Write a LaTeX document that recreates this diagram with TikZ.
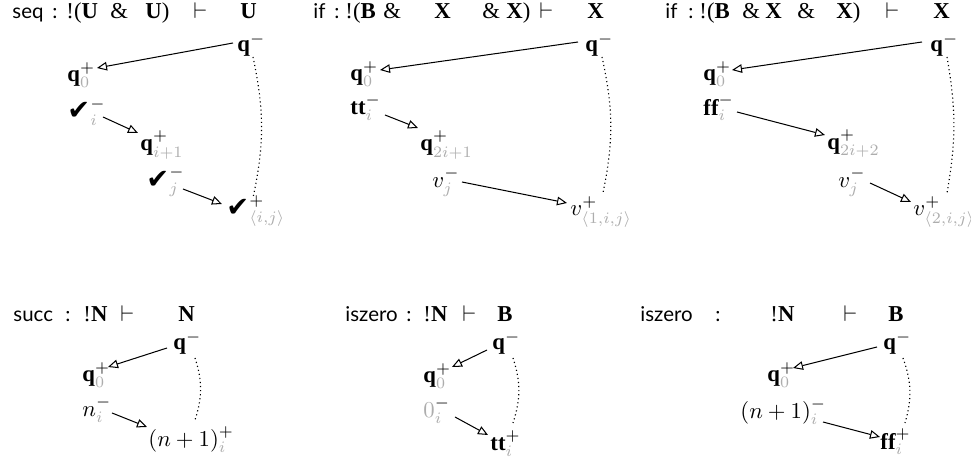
\documentclass[tikz,border=0pt]{standalone}
\usepackage{fontspec}
\setmainfont{Liberation Serif}
\newfontfamily\hdrfont{Lato}
\newfontfamily\chkfont{DejaVu Sans}
\usetikzlibrary{arrows.meta,calc}
\definecolor{subgray}{gray}{0.68}
\newcommand\gs[1]{{\color{subgray}#1}}
\newcommand\chk{\mbox{\chkfont\fontsize{12}{12}\selectfont ✔}}
\begin{document}
\begin{tikzpicture}[x=0.44pt,y=-0.44pt,
  mv/.style={anchor=west,inner sep=0pt},
  hd/.style={anchor=base west,inner sep=0pt},
  hs/.style={hd,font=\hdrfont\fontsize{9}{11}\selectfont},
  arr/.style={-{Triangle[open,length=4.4pt,width=3.8pt]},line width=0.45pt},
  dotcurve/.style={line width=0.5pt,dash pattern=on 0.5pt off 1.3pt}]
\useasboundingbox (0,0) rectangle (971,461);

% ---------- headers, top row ----------
\node[hs] (h1a) at (12,19) {seq};
\node[hs] (h1b) at (52,19) {:};
\node[hd] (h1c) at (66,19) {!(\textbf{U}};
\node[hd] (h1d) at (110,19) {\&};
\node[hd] (h1e) at (145,19) {\textbf{U})};
\node[hd] (h1f) at (193,19) {$\vdash$};
\node[hd] (h1g) at (240,19) {\textbf{U}};

\node[hs] (h2a) at (313,19) {if};
\node[hs] (h2b) at (334,19) {:};
\node[hd] (h2c) at (345,19) {!(\textbf{B}};
\node[hd] (h2d) at (383,19) {\&};
\node[hd] (h2e) at (434,19) {\textbf{X}};
\node[hd] (h2f) at (482,19) {\&};
\node[hd] (h2g) at (506,19) {\textbf{X})};
\node[hd] (h2h) at (539,19) {$\vdash$};
\node[hd] (h2i) at (587,19) {\textbf{X}};

\node[hs] (h3a) at (665,19) {if};
\node[hs] (h3b) at (688,19) {:};
\node[hd] (h3c) at (699,19) {!(\textbf{B}};
\node[hd] (h3d) at (742,19) {\&};
\node[hd] (h3e) at (765,19) {\textbf{X}};
\node[hd] (h3f) at (797,19) {\&};
\node[hd] (h3g) at (836,19) {\textbf{X})};
\node[hd] (h3h) at (885,19) {$\vdash$};
\node[hd] (h3i) at (933,19) {\textbf{X}};

% ---------- headers, bottom row ----------
\node[hs] (h4a) at (13,322) {succ};
\node[hs] (h4b) at (65,322) {:};
\node[hd] (h4c) at (83,322) {!\textbf{N}};
\node[hd] (h4d) at (120,322) {$\vdash$};
\node[hd] (h4e) at (178,322) {\textbf{N}};

\node[hs] (h5a) at (345,322) {iszero};
\node[hs] (h5b) at (406,322) {:};
\node[hd] (h5c) at (423,322) {!\textbf{N}};
\node[hd] (h5d) at (462,322) {$\vdash$};
\node[hd] (h5e) at (497,322) {\textbf{B}};

\node[hs] (h6a) at (640,322) {iszero};
\node[hs] (h6b) at (715,322) {:};
\node[hd] (h6c) at (770,322) {!\textbf{N}};
\node[hd] (h6d) at (843,322) {$\vdash$};
\node[hd] (h6e) at (888,322) {\textbf{B}};

% ---------- panel 1: seq ----------
\node[mv] (qm)  at (237,45)  {$\mathbf{q}^{-}$};
\node[mv] (q0)  at (67,75)   {$\mathbf{q}^{+}_{\gs{0}}$};
\node[mv] (ci)  at (67,112)  {$\chk^{-}_{\gs{i}}$};
\node[mv] (qi1) at (140,145) {$\mathbf{q}^{+}_{\gs{i+1}}$};
\node[mv] (cj)  at (146,182) {$\chk^{-}_{\gs{j}}$};
\node[mv] (cij) at (226,211) {$\chk^{+}_{\gs{\langle i,j\rangle}}$};
\draw[arr] ($(qm.west)+(-4,-2)$) -- ($(q0.west)+(30,-7)$);
\draw[arr] ($(ci.west)+(36,5)$) -- ($(qi1.west)+(-2,-12)$);
\draw[arr] ($(cj.west)+(37,7)$) -- ($(cij.west)+(-4,-7)$);
\draw[dotcurve] ($(qm.west)+(16,12)$) to[bend left=12] ($(cij.west)+(27,-13)$);

% ---------- panel 2: if (true) ----------
\node[mv] (qmb)  at (585,45)  {$\mathbf{q}^{-}$};
\node[mv] (q0b)  at (350,74)  {$\mathbf{q}^{+}_{\gs{0}}$};
\node[mv] (tt)   at (350,108) {$\mathbf{tt}^{-}_{\gs{i}}$};
\node[mv] (q2i1) at (420,145) {$\mathbf{q}^{+}_{\gs{2i+1}}$};
\node[mv] (vjb)  at (432,182) {$v^{-}_{\gs{j}}$};
\node[mv] (v1ij) at (570,212) {$v^{+}_{\gs{\langle 1,i,j\rangle}}$};
\draw[arr] ($(qmb.west)+(-7,-3)$) -- ($(q0b.west)+(30,-4)$);
\draw[arr] ($(tt.west)+(35,7)$) -- ($(q2i1.west)+(-2,-17)$);
\draw[arr] ($(vjb.west)+(30,0)$) -- ($(v1ij.west)+(-3,-9)$);
\draw[dotcurve] ($(qmb.west)+(17,12)$) to[bend left=12] ($(v1ij.west)+(33,-19)$);

% ---------- panel 3: if (false) ----------
\node[mv] (qmc)  at (930,45)  {$\mathbf{q}^{-}$};
\node[mv] (q0c)  at (703,74)  {$\mathbf{q}^{+}_{\gs{0}}$};
\node[mv] (ff)   at (703,108) {$\mathbf{ff}^{-}_{\gs{i}}$};
\node[mv] (q2i2) at (827,144) {$\mathbf{q}^{+}_{\gs{2i+2}}$};
\node[mv] (vjc)  at (838,182) {$v^{-}_{\gs{j}}$};
\node[mv] (v2ij) at (913,212) {$v^{+}_{\gs{\langle 2,i,j\rangle}}$};
\draw[arr] ($(qmc.west)+(-8,-3)$) -- ($(q0c.west)+(29,-4)$);
\draw[arr] ($(ff.west)+(34,4)$) -- ($(q2i2.west)+(-2,-9)$);
\draw[arr] ($(vjc.west)+(32,1)$) -- ($(v2ij.west)+(-2,-10)$);
\draw[dotcurve] ($(qmc.west)+(17,12)$) to[bend left=10] ($(v2ij.west)+(34,-19)$);

% ---------- panel 4: succ ----------
\node[mv] (qmd) at (173,343) {$\mathbf{q}^{-}$};
\node[mv] (q0d) at (82,375)  {$\mathbf{q}^{+}_{\gs{0}}$};
\node[mv] (ni)  at (82,410)  {$n^{-}_{\gs{i}}$};
\node[mv] (n1p) at (148,440) {$(n+1)^{+}_{\gs{i}}$};
\draw[arr] ($(qmd.west)+(-6,5)$) -- ($(q0d.west)+(26,-8)$);
\draw[arr] ($(ni.west)+(30,3)$) -- ($(n1p.west)+(-1,-13)$);
\draw[dotcurve] ($(qmd.west)+(22,15)$) to[bend left=18] ($(n1p.west)+(47,-20)$);

% ---------- panel 5: iszero (zero) ----------
\node[mv] (qme) at (492,343) {$\mathbf{q}^{-}$};
\node[mv] (q0e) at (423,376) {$\mathbf{q}^{+}_{\gs{0}}$};
\node[mv] (zi)  at (423,411) {$\gs{0}^{-}_{\gs{i}}$};
\node[mv] (tti) at (490,444) {$\mathbf{tt}^{+}_{\gs{i}}$};
\draw[arr] ($(qme.west)+(-5,7)$) -- ($(q0e.west)+(29,-9)$);
\draw[arr] ($(zi.west)+(32,6)$) -- ($(tti.west)+(-2,-9)$);
\draw[dotcurve] ($(qme.west)+(21,15)$) to[bend left=18] ($(tti.west)+(23,-21)$);

% ---------- panel 6: iszero (succ) ----------
\node[mv] (qmf) at (883,343) {$\mathbf{q}^{-}$};
\node[mv] (q0f) at (767,375) {$\mathbf{q}^{+}_{\gs{0}}$};
\node[mv] (n1m) at (740,412) {$(n+1)^{-}_{\gs{i}}$};
\node[mv] (ffi) at (880,442) {$\mathbf{ff}^{+}_{\gs{i}}$};
\draw[arr] ($(qmf.west)+(-6,4)$) -- ($(q0f.west)+(26,-7)$);
\draw[arr] ($(n1m.west)+(83,10)$) -- ($(ffi.west)+(0,-5)$);
\draw[dotcurve] ($(qmf.west)+(20,15)$) to[bend left=18] ($(ffi.west)+(25,-19)$);
\end{tikzpicture}
\end{document}
